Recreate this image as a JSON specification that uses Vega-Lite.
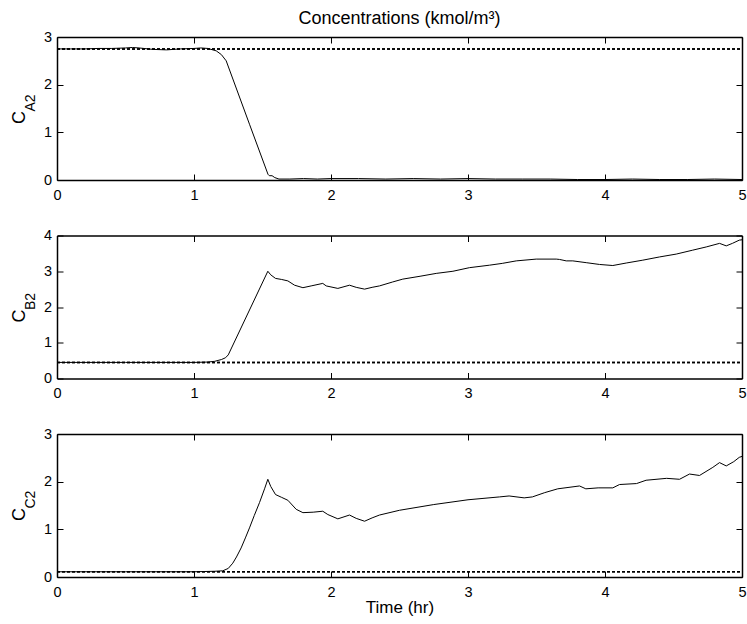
{
  "$schema": "https://vega.github.io/schema/vega-lite/v6.json",
  "background": "white",
  "padding": {"left": 10, "top": 10, "right": 5, "bottom": 5},
  "bounds": "flush",
  "spacing": 55.5,
  "config": {
    "view": {"stroke": null},
    "axis": {
      "grid": false,
      "labelFlush": false,
      "domainColor": "black",
      "domainWidth": 1.5,
      "tickColor": "black",
      "tickWidth": 1,
      "tickSize": -6,
      "labelColor": "black",
      "labelFont": "Liberation Sans",
      "labelFontSize": 14.5,
      "titleFont": "Liberation Sans",
      "titleFontWeight": "normal",
      "titleColor": "black"
    },
    "title": {"font": "Liberation Sans", "fontWeight": "normal", "color": "black"}
  },
  "datasets": {
    "a": [
      {"t": 0, "v": 2.75}, {"t": 0.1, "v": 2.75}, {"t": 0.2, "v": 2.75}, {"t": 0.3, "v": 2.76}, {"t": 0.4, "v": 2.76},
      {"t": 0.5, "v": 2.77}, {"t": 0.55, "v": 2.78}, {"t": 0.6, "v": 2.77}, {"t": 0.7, "v": 2.74}, {"t": 0.8, "v": 2.73},
      {"t": 0.9, "v": 2.75}, {"t": 1.0, "v": 2.76}, {"t": 1.05, "v": 2.77}, {"t": 1.1, "v": 2.76}, {"t": 1.162, "v": 2.71},
      {"t": 1.2, "v": 2.63}, {"t": 1.235, "v": 2.5}, {"t": 1.405, "v": 1.17}, {"t": 1.54, "v": 0.12}, {"t": 1.55, "v": 0.09},
      {"t": 1.57, "v": 0.09}, {"t": 1.59, "v": 0.05}, {"t": 1.62, "v": 0.02}, {"t": 1.7, "v": 0.02}, {"t": 1.8, "v": 0.03},
      {"t": 1.9, "v": 0.02}, {"t": 2.0, "v": 0.03}, {"t": 2.2, "v": 0.03}, {"t": 2.4, "v": 0.02}, {"t": 2.6, "v": 0.03},
      {"t": 2.8, "v": 0.02}, {"t": 3.0, "v": 0.03}, {"t": 3.2, "v": 0.02}, {"t": 3.4, "v": 0.02}, {"t": 3.6, "v": 0.02},
      {"t": 3.8, "v": 0.01}, {"t": 4.0, "v": 0.01}, {"t": 4.2, "v": 0.02}, {"t": 4.4, "v": 0.01}, {"t": 4.6, "v": 0.01},
      {"t": 4.8, "v": 0.02}, {"t": 5.0, "v": 0.01}
    ],
    "b": [
      {"t": 0, "v": 0.45}, {"t": 0.5, "v": 0.45}, {"t": 1.0, "v": 0.45}, {"t": 1.1, "v": 0.46}, {"t": 1.15, "v": 0.48},
      {"t": 1.2, "v": 0.53}, {"t": 1.23, "v": 0.58}, {"t": 1.25, "v": 0.66}, {"t": 1.539, "v": 3.0}, {"t": 1.56, "v": 2.9},
      {"t": 1.595, "v": 2.8}, {"t": 1.64, "v": 2.77}, {"t": 1.685, "v": 2.73}, {"t": 1.734, "v": 2.61}, {"t": 1.795, "v": 2.54},
      {"t": 1.855, "v": 2.59}, {"t": 1.94, "v": 2.66}, {"t": 1.965, "v": 2.59}, {"t": 2.05, "v": 2.52}, {"t": 2.135, "v": 2.61},
      {"t": 2.184, "v": 2.55}, {"t": 2.245, "v": 2.5}, {"t": 2.3, "v": 2.55}, {"t": 2.354, "v": 2.59}, {"t": 2.45, "v": 2.7},
      {"t": 2.524, "v": 2.78}, {"t": 2.65, "v": 2.86}, {"t": 2.768, "v": 2.94}, {"t": 2.89, "v": 3.0}, {"t": 3.01, "v": 3.1},
      {"t": 3.157, "v": 3.17}, {"t": 3.25, "v": 3.22}, {"t": 3.352, "v": 3.29}, {"t": 3.498, "v": 3.34}, {"t": 3.644, "v": 3.34},
      {"t": 3.668, "v": 3.33}, {"t": 3.717, "v": 3.29}, {"t": 3.765, "v": 3.29}, {"t": 3.863, "v": 3.24}, {"t": 3.96, "v": 3.19},
      {"t": 4.057, "v": 3.16}, {"t": 4.155, "v": 3.23}, {"t": 4.276, "v": 3.31}, {"t": 4.398, "v": 3.4}, {"t": 4.52, "v": 3.48},
      {"t": 4.64, "v": 3.59}, {"t": 4.739, "v": 3.68}, {"t": 4.836, "v": 3.78}, {"t": 4.885, "v": 3.71}, {"t": 4.93, "v": 3.78},
      {"t": 4.98, "v": 3.87}, {"t": 5.0, "v": 3.88}
    ],
    "c": [
      {"t": 0, "v": 0.11}, {"t": 0.5, "v": 0.11}, {"t": 1.0, "v": 0.11}, {"t": 1.15, "v": 0.12}, {"t": 1.21, "v": 0.13},
      {"t": 1.25, "v": 0.18}, {"t": 1.283, "v": 0.29}, {"t": 1.31, "v": 0.42}, {"t": 1.344, "v": 0.61}, {"t": 1.375, "v": 0.82},
      {"t": 1.405, "v": 1.03}, {"t": 1.44, "v": 1.29}, {"t": 1.478, "v": 1.56}, {"t": 1.515, "v": 1.85}, {"t": 1.539, "v": 2.05},
      {"t": 1.56, "v": 1.9}, {"t": 1.595, "v": 1.73}, {"t": 1.64, "v": 1.67}, {"t": 1.685, "v": 1.61}, {"t": 1.746, "v": 1.42},
      {"t": 1.795, "v": 1.35}, {"t": 1.87, "v": 1.36}, {"t": 1.94, "v": 1.38}, {"t": 1.977, "v": 1.31}, {"t": 2.05, "v": 1.22},
      {"t": 2.135, "v": 1.3}, {"t": 2.184, "v": 1.23}, {"t": 2.245, "v": 1.17}, {"t": 2.3, "v": 1.24}, {"t": 2.354, "v": 1.3},
      {"t": 2.5, "v": 1.4}, {"t": 2.75, "v": 1.52}, {"t": 3.0, "v": 1.62}, {"t": 3.23, "v": 1.68}, {"t": 3.3, "v": 1.7},
      {"t": 3.41, "v": 1.66}, {"t": 3.47, "v": 1.68}, {"t": 3.56, "v": 1.77}, {"t": 3.655, "v": 1.85}, {"t": 3.814, "v": 1.91},
      {"t": 3.86, "v": 1.85}, {"t": 3.95, "v": 1.87}, {"t": 4.057, "v": 1.87}, {"t": 4.106, "v": 1.94}, {"t": 4.23, "v": 1.96},
      {"t": 4.3, "v": 2.03}, {"t": 4.45, "v": 2.07}, {"t": 4.544, "v": 2.05}, {"t": 4.617, "v": 2.16}, {"t": 4.69, "v": 2.13},
      {"t": 4.787, "v": 2.3}, {"t": 4.836, "v": 2.4}, {"t": 4.885, "v": 2.33}, {"t": 4.94, "v": 2.42}, {"t": 4.98, "v": 2.51},
      {"t": 5.0, "v": 2.53}
    ],
    "spa": [{"t0": 0, "t1": 5, "v": 2.75}],
    "spb": [{"t0": 0, "t1": 5, "v": 0.45}],
    "spc": [{"t0": 0, "t1": 5, "v": 0.11}]
  },
  "vconcat": [
    {
      "width": 685, "height": 143,
      "title": {"text": "Concentrations (kmol/m³)", "fontSize": 18, "anchor": "middle", "offset": 1},
      "layer": [
        {"data": {"name": "a"}, "mark": {"type": "line", "color": "black", "strokeWidth": 1, "clip": true},
         "encoding": {
           "x": {"field": "t", "type": "quantitative", "scale": {"domain": [0, 5], "nice": false},
                 "axis": {"orient": "bottom", "values": [0, 1, 2, 3, 4, 5], "labelPadding": 14, "title": null}},
           "y": {"field": "v", "type": "quantitative", "scale": {"domain": [0, 3], "nice": false},
                 "axis": {"orient": "left", "values": [0, 1, 2, 3], "labelPadding": 11.5, "title": "C", "titleFontSize": 18,
                          "titleAngle": 270, "titleAlign": "left", "titleBaseline": "alphabetic", "titleX": -33, "titleY": 86.5}}}},
        {"data": {"name": "spa"}, "mark": {"type": "rule", "color": "black", "strokeWidth": 1.5, "strokeDash": [3, 2]},
         "encoding": {
           "x": {"field": "t0", "type": "quantitative", "scale": {"domain": [0, 5], "nice": false},
                 "axis": {"orient": "top", "values": [0, 1, 2, 3, 4, 5], "labels": false, "title": null}},
           "x2": {"field": "t1"},
           "y": {"field": "v", "type": "quantitative", "scale": {"domain": [0, 3], "nice": false},
                 "axis": {"orient": "left", "labels": false, "ticks": false, "domain": false, "title": "A2", "titleFontSize": 14,
                          "titleAngle": 270, "titleAlign": "left", "titleBaseline": "alphabetic", "titleX": -23, "titleY": 74}}}},
        {"data": {"name": "spa"}, "mark": {"type": "rule", "color": "black", "strokeWidth": 1.5, "strokeDash": [3, 2]},
         "encoding": {
           "x": {"field": "t0", "type": "quantitative", "scale": {"domain": [0, 5], "nice": false}, "axis": null},
           "x2": {"field": "t1"},
           "y": {"field": "v", "type": "quantitative", "scale": {"domain": [0, 3], "nice": false},
                 "axis": {"orient": "right", "values": [0, 1, 2, 3], "labels": false, "title": null}}}}
      ],
      "resolve": {"scale": {"x": "independent", "y": "independent"}, "axis": {"x": "independent", "y": "independent"}}
    },
    {
      "width": 685, "height": 143,
      "layer": [
        {"data": {"name": "b"}, "mark": {"type": "line", "color": "black", "strokeWidth": 1, "clip": true},
         "encoding": {
           "x": {"field": "t", "type": "quantitative", "scale": {"domain": [0, 5], "nice": false},
                 "axis": {"orient": "bottom", "values": [0, 1, 2, 3, 4, 5], "labelPadding": 14, "title": null}},
           "y": {"field": "v", "type": "quantitative", "scale": {"domain": [0, 4], "nice": false},
                 "axis": {"orient": "left", "values": [0, 1, 2, 3, 4], "labelPadding": 11.5, "title": "C", "titleFontSize": 18,
                          "titleAngle": 270, "titleAlign": "left", "titleBaseline": "alphabetic", "titleX": -33, "titleY": 86.5}}}},
        {"data": {"name": "spb"}, "mark": {"type": "rule", "color": "black", "strokeWidth": 1.5, "strokeDash": [3, 2]},
         "encoding": {
           "x": {"field": "t0", "type": "quantitative", "scale": {"domain": [0, 5], "nice": false},
                 "axis": {"orient": "top", "values": [0, 1, 2, 3, 4, 5], "labels": false, "title": null}},
           "x2": {"field": "t1"},
           "y": {"field": "v", "type": "quantitative", "scale": {"domain": [0, 4], "nice": false},
                 "axis": {"orient": "left", "labels": false, "ticks": false, "domain": false, "title": "B2", "titleFontSize": 14,
                          "titleAngle": 270, "titleAlign": "left", "titleBaseline": "alphabetic", "titleX": -23, "titleY": 74}}}},
        {"data": {"name": "spb"}, "mark": {"type": "rule", "color": "black", "strokeWidth": 1.5, "strokeDash": [3, 2]},
         "encoding": {
           "x": {"field": "t0", "type": "quantitative", "scale": {"domain": [0, 5], "nice": false}, "axis": null},
           "x2": {"field": "t1"},
           "y": {"field": "v", "type": "quantitative", "scale": {"domain": [0, 4], "nice": false},
                 "axis": {"orient": "right", "values": [0, 1, 2, 3, 4], "labels": false, "title": null}}}}
      ],
      "resolve": {"scale": {"x": "independent", "y": "independent"}, "axis": {"x": "independent", "y": "independent"}}
    },
    {
      "width": 685, "height": 143,
      "layer": [
        {"data": {"name": "c"}, "mark": {"type": "line", "color": "black", "strokeWidth": 1, "clip": true},
         "encoding": {
           "x": {"field": "t", "type": "quantitative", "scale": {"domain": [0, 5], "nice": false},
                 "axis": {"orient": "bottom", "values": [0, 1, 2, 3, 4, 5], "labelPadding": 14, "title": "Time (hr)",
                          "titleFontSize": 17, "titlePadding": 1}},
           "y": {"field": "v", "type": "quantitative", "scale": {"domain": [0, 3], "nice": false},
                 "axis": {"orient": "left", "values": [0, 1, 2, 3], "labelPadding": 11.5, "title": "C", "titleFontSize": 18,
                          "titleAngle": 270, "titleAlign": "left", "titleBaseline": "alphabetic", "titleX": -33, "titleY": 86.5}}}},
        {"data": {"name": "spc"}, "mark": {"type": "rule", "color": "black", "strokeWidth": 1.5, "strokeDash": [3, 2]},
         "encoding": {
           "x": {"field": "t0", "type": "quantitative", "scale": {"domain": [0, 5], "nice": false},
                 "axis": {"orient": "top", "values": [0, 1, 2, 3, 4, 5], "labels": false, "title": null}},
           "x2": {"field": "t1"},
           "y": {"field": "v", "type": "quantitative", "scale": {"domain": [0, 3], "nice": false},
                 "axis": {"orient": "left", "labels": false, "ticks": false, "domain": false, "title": "C2", "titleFontSize": 14,
                          "titleAngle": 270, "titleAlign": "left", "titleBaseline": "alphabetic", "titleX": -23, "titleY": 74}}}},
        {"data": {"name": "spc"}, "mark": {"type": "rule", "color": "black", "strokeWidth": 1.5, "strokeDash": [3, 2]},
         "encoding": {
           "x": {"field": "t0", "type": "quantitative", "scale": {"domain": [0, 5], "nice": false}, "axis": null},
           "x2": {"field": "t1"},
           "y": {"field": "v", "type": "quantitative", "scale": {"domain": [0, 3], "nice": false},
                 "axis": {"orient": "right", "values": [0, 1, 2, 3], "labels": false, "title": null}}}}
      ],
      "resolve": {"scale": {"x": "independent", "y": "independent"}, "axis": {"x": "independent", "y": "independent"}}
    }
  ]
}
